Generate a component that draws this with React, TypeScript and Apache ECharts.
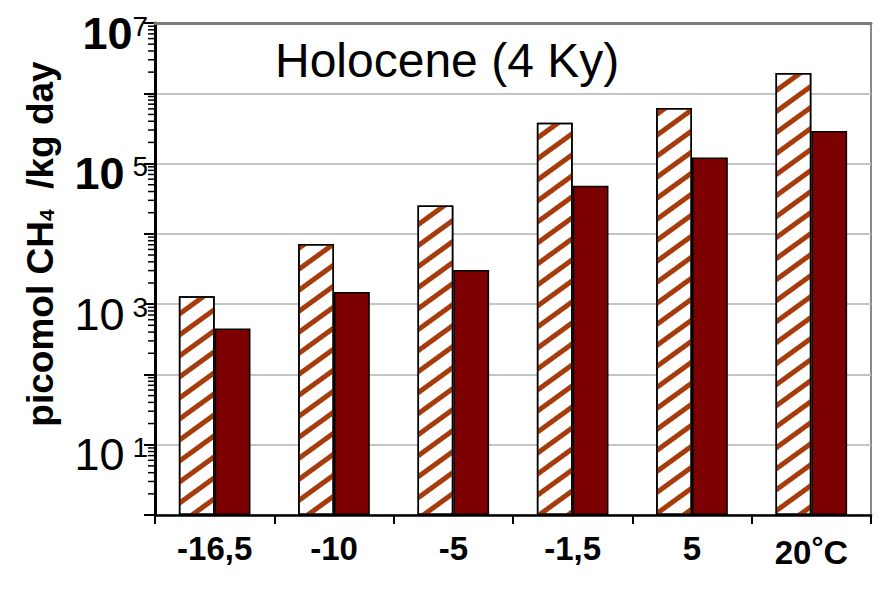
import React, { useEffect, useRef } from "react";
import * as echarts from "echarts";

const categories = ["-16,5", "-10", "-5", "-1,5", "5", "20°C"];
const hatchedValues = [1300, 7200, 25400, 380000, 620000, 1950000];
const solidValues = [450, 1490, 3050, 48300, 121600, 290000];
const labelledExponents = [1, 3, 5, 7];
const boldExponents = [5, 7];
const minorMultipliers = [2, 3, 4, 5, 6, 7, 8, 9];
const decadeExponents = [0, 1, 2, 3, 4, 5, 6];
const titleText = "Holocene (4 Ky)";

const FONT = "'Liberation Sans', Arial, sans-serif";

export default function App() {
  const ref = useRef<HTMLDivElement>(null);

  useEffect(() => {
    if (!ref.current) return;
    const chart = echarts.init(ref.current, undefined, { renderer: "svg" });

    const minorData: number[][] = [];
    decadeExponents.forEach((e) => {
      minorMultipliers.forEach((m) => minorData.push([0, m * Math.pow(10, e)]));
    });

    chart.setOption({
      animation: false,
      backgroundColor: "#ffffff",
      textStyle: { fontFamily: FONT },
      title: {
        text: titleText,
        left: 275,
        top: 36,
        padding: 0,
        textStyle: { fontFamily: FONT, fontSize: 48, fontWeight: "normal", color: "#000" },
      },
      grid: {
        left: 155,
        right: 14,
        top: 23,
        bottom: 76,
        show: true,
        borderColor: "#8a8a8a",
        borderWidth: 2,
        backgroundColor: "transparent",
      },
      graphic: [
        {
          type: "text",
          x: 40,
          y: 244,
          rotation: Math.PI / 2,
          style: {
            text: "{b|picomol CH}{s|4}{b|  /kg day}",
            align: "center",
            verticalAlign: "middle",
            rich: {
              b: { fontFamily: FONT, fontSize: 37, fontWeight: "bold", fill: "#000" },
              s: { fontFamily: FONT, fontSize: 21, fontWeight: "bold", fill: "#000", padding: [13, 0, 0, 0] },
            },
          },
        },
      ],
      xAxis: [
        {
          type: "category",
          data: categories,
          axisLine: { lineStyle: { color: "#000", width: 2.5 } },
          axisTick: { show: true, length: 9, lineStyle: { color: "#000", width: 2 } },
          splitLine: { show: false },
          axisLabel: {
            interval: 0,
            margin: 17,
            color: "#000",
            fontFamily: FONT,
            fontSize: 33,
            fontWeight: "bold",
            formatter: (v: string) =>
              v.indexOf("°") >= 0 ? "{n|" + v.replace("°C", "") + "}{d|°}{c|C}" : v,
            rich: {
              n: { fontFamily: FONT, fontSize: 33, fontWeight: "bold", color: "#000" },
              d: { fontFamily: FONT, fontSize: 30, color: "#000", verticalAlign: "top", padding: [0, 0, 10, 0] },
              c: { fontFamily: FONT, fontSize: 34, color: "#000" },
            },
          },
        },
        {
          type: "category",
          data: categories,
          position: "top",
          z: 10,
          axisLine: { lineStyle: { color: "#7a7a7a", width: 3 } },
          axisTick: { show: false },
          axisLabel: { show: false },
          splitLine: { show: false },
        },
      ],
      yAxis: {
        type: "log",
        logBase: 10,
        min: 1,
        max: 1e7,
        axisLine: { show: true, lineStyle: { color: "#000", width: 3 } },
        axisTick: { show: true, length: 11, lineStyle: { color: "#000", width: 2 } },
        splitLine: { show: true, lineStyle: { color: "#c4c4c4", width: 2 } },
        axisLabel: {
          margin: 7,
          padding: [20, 0, 0, 0],
          formatter: (v: number) => {
            const e = Math.round(Math.log10(v));
            if (labelledExponents.indexOf(e) < 0) return "";
            const bold = boldExponents.indexOf(e) >= 0;
            const base = bold ? "bb" : "b";
            return e === 7 ? "{" + base + "|10}{s|" + e + "}" : "{" + base + "|10}{s| " + e + "}";
          },
          rich: {
            b: { fontFamily: FONT, fontSize: 45, color: "#000", lineHeight: 42 },
            bb: { fontFamily: FONT, fontSize: 45, fontWeight: "bold", color: "#000", lineHeight: 42 },
            s: { fontFamily: FONT, fontSize: 28, color: "#000", verticalAlign: "top", lineHeight: 28 },
          },
        },
      },
      series: [
        {
          type: "bar",
          name: "hatched",
          data: hatchedValues,
          barGap: "0%",
          barCategoryGap: "40%",
          itemStyle: {
            color: "#ffffff",
            borderColor: "#000",
            borderWidth: 1.5,
            decal: {
              symbol: "rect",
              symbolSize: 1,
              color: "#a63c0c",
              dashArrayX: [1, 0],
              dashArrayY: [4.5, 11.5],
              rotation: -Math.PI / 5,
            },
          },
        },
        {
          type: "bar",
          name: "solid",
          data: solidValues,
          itemStyle: { color: "#7c0000", borderColor: "#000", borderWidth: 1.5 },
        },
        {
          type: "custom",
          name: "minorTicks",
          data: minorData,
          silent: true,
          z: 5,
          renderItem: (params: any, api: any) => {
            const pt = api.coord([api.value(0), api.value(1)]);
            const x0 = params.coordSys.x;
            return {
              type: "line",
              shape: { x1: x0 - 7, y1: pt[1], x2: x0, y2: pt[1] },
              style: { stroke: "#000", lineWidth: 1.5 },
            };
          },
        },
      ],
    });

    return () => chart.dispose();
  }, []);

  return (
    <div
      ref={ref}
      style={{ position: "absolute", left: 0, top: 0, width: 885, height: 591 }}
    />
  );
}
